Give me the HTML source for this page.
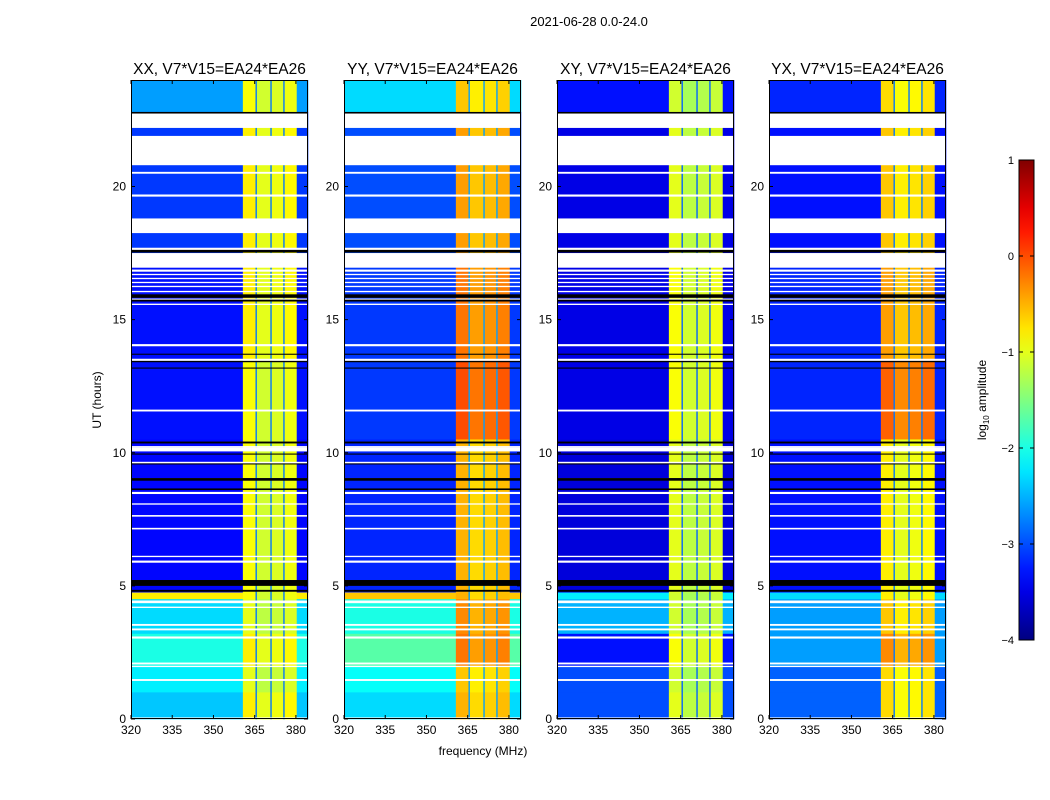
<!DOCTYPE html>
<html><head><meta charset="utf-8">
<style>
html,body{margin:0;padding:0;background:#fff;}
svg{display:block;font-family:"Liberation Sans","DejaVu Sans",sans-serif;}
</style></head>
<body>
<svg id="fig" width="1050" height="800" viewBox="0 0 1050 800" xmlns="http://www.w3.org/2000/svg">
<text x="589" y="26" font-size="13" text-anchor="middle">2021-06-28 0.0-24.0</text>
<text x="483" y="755" font-size="12" text-anchor="middle">frequency (MHz)</text>
<text x="101" y="400" font-size="12" text-anchor="middle" transform="rotate(-90 101 400)">UT (hours)</text>
<g id="panels"></g>
<defs><linearGradient id="jet" x1="0" y1="1" x2="0" y2="0"></linearGradient></defs>
<g id="cbar"></g>
<text x="986" y="400" font-size="12" text-anchor="middle" transform="rotate(-90 986 400)">log<tspan font-size="8" dy="3">10</tspan><tspan dy="-3"> amplitude</tspan></text>
</svg>
<script>
// ---- data ----
const panelTitles = ["XX, V7*V15=EA24*EA26","YY, V7*V15=EA24*EA26","XY, V7*V15=EA24*EA26","YX, V7*V15=EA24*EA26"];
const xTicks = [320,335,350,365,380];
const yTicks = [0,5,10,15,20];
const cbTicks = [1,0,-1,-2,-3,-4];
// frequency columns (MHz edges) and type: 0 background, 1 RFI, 2 gap within RFI
const freqEdges = [320,360.7,365.3,365.8,370.7,371.2,375.4,375.9,380.3,384.4];
const freqType  = [0,1,2,1,2,1,2,1,0];
const rfiColOffset = [0,0.1,0,-0.1,0,-0.05,0,0.05,0];
// time segments (hours)
const segStart = [22.8,17.5,13.5,10.5,4.75,4.5,3.2,2.0,1.0,0.0];
const segEnd   = [24.0,22.8,17.5,13.5,10.5,4.75,4.5,3.2,2.0,1.0];
const bgXX = [-2.6,-3.1,-3.3,-3.3,-3.35,-0.8,-2.3,-2.0,-2.2,-2.4];
const bgYY = [-2.3,-3.0,-3.1,-3.1,-3.2,-0.6,-2.0,-1.7,-2.1,-2.3];
const bgXY = [-3.3,-3.5,-3.5,-3.5,-3.55,-2.2,-2.5,-3.3,-3.0,-3.0];
const bgYX = [-3.2,-3.3,-3.2,-3.2,-3.3,-2.3,-2.6,-2.6,-2.9,-2.9];
const rfiXX = [-1.0,-0.9,-0.9,-1.0,-1.0,-1.0,-1.1,-0.9,-1.1,-0.9];
const rfiYY = [-0.7,-0.5,-0.3,-0.1,-0.6,-0.6,-0.4,-0.3,-0.7,-0.6];
const rfiXY = [-1.2,-1.1,-1.0,-1.0,-1.1,-1.2,-1.2,-1.0,-1.2,-1.1];
const rfiYX = [-0.8,-0.7,-0.5,-0.2,-0.9,-0.9,-0.7,-0.4,-0.8,-0.8];
const gapLevel = [-2.8,-2.6,-2.9,-2.8];
// flagged rows (hours): white = no data, black = zero lines
const whiteStart = [22.2,20.8,20.48,19.62,18.25,17.6,16.95,16.8,16.67,16.52,16.37,16.22,16.03,15.85,15.74,15.55,14.0,13.45,11.55,10.2,10.05,9.6,9.0,8.45,8.05,7.6,7.12,6.08,5.87,4.35,4.17,3.5,3.33,3.02,2.05,1.95,1.43,0.02];
const whiteEnd   = [22.75,21.9,20.55,19.7,18.8,17.7,17.5,16.88,16.72,16.57,16.42,16.27,16.08,15.9,15.79,15.6,14.08,13.53,11.62,10.25,10.2,9.66,9.05,8.53,8.1,7.66,7.18,6.13,5.95,4.45,4.22,3.57,3.4,3.1,2.12,2.0,1.5,0.06];
const blackStart = [22.74,17.52,15.82,15.68,13.68,13.4,13.16,10.35,9.93,9.56,8.95,8.6,5.0,4.78];
const blackEnd   = [22.8,17.62,15.95,15.75,13.72,13.45,13.2,10.42,9.97,9.6,9.05,8.66,5.22,4.85];

const bgSets = [bgXX,bgYY,bgXY,bgYX];
const rfiSets = [rfiXX,rfiYY,rfiXY,rfiYX];
const panelLeft = [131,344,557,769];
const PW = 177, PT = 80, PB = 719;
const NS = "http://www.w3.org/2000/svg";

function jet(v){
  let t = Math.max(0, Math.min(1, (v + 4) / 5));
  const f = (x) => Math.max(0, Math.min(1, 1.5 - Math.abs(4*t - x)));
  const r = f(3), g = f(2), b = f(1);
  return `rgb(${Math.round(r*255)},${Math.round(g*255)},${Math.round(b*255)})`;
}
function xScale(p, f){ return panelLeft[p] + (f - 320) / (384.4 - 320) * PW; }
function yScale(h){ return PB - h / 24 * (PB - PT); }
function mk(tag, attrs, parent){
  const el = document.createElementNS(NS, tag);
  for (const k in attrs) el.setAttribute(k, attrs[k]);
  parent.appendChild(el);
  return el;
}

const panels = document.getElementById('panels');
for (let p = 0; p < 4; p++){
  const g = mk('g', {}, panels);
  
  
  const hm = mk('g', {}, g);
  
  
  for (let s = 0; s < segStart.length; s++){
    for (let c = 0; c < freqType.length; c++){
      let v;
      if (freqType[c] === 0) v = bgSets[p][s];
      else if (freqType[c] === 1) v = rfiSets[p][s] + rfiColOffset[c];
      else v = gapLevel[p];
      const x0 = xScale(p, freqEdges[c]), x1 = xScale(p, freqEdges[c+1]);
      const y0 = yScale(segEnd[s]), y1 = yScale(segStart[s]);
      const r = mk('rect', {x:x0, y:y0, width:x1-x0+0.3, height:y1-y0+0.3, fill:jet(v)}, hm);
      
      
    }
  }
  for (let i = 0; i < whiteStart.length; i++){
    const r = mk('rect', {x:panelLeft[p], y:yScale(whiteEnd[i]), width:PW, height:Math.max(1, yScale(whiteStart[i]) - yScale(whiteEnd[i])), fill:'#fff'}, hm);
    
    
  }
  for (let i = 0; i < blackStart.length; i++){
    const r = mk('rect', {x:panelLeft[p], y:yScale(blackEnd[i]), width:PW, height:Math.max(1, yScale(blackStart[i]) - yScale(blackEnd[i])), fill:'#000'}, hm);
    
    
  }
  const fr = mk('rect', {x:panelLeft[p]+0.5, y:PT+0.5, width:PW-1, height:PB-PT-1, fill:'none', stroke:'#000', 'stroke-width':1}, g);
  
  
  const t = mk('text', {x:panelLeft[p]+PW/2, y:74, 'font-size':15.5, 'text-anchor':'middle'}, g);
  t.textContent = panelTitles[p];
  
  
  for (const f of xTicks){
    const x = xScale(p, f);
    const tk = mk('line', {x1:x, x2:x, y1:PB, y2:PB-4, stroke:'#000'}, g);
    
    
    mk('line', {x1:x, x2:x, y1:PT, y2:PT+4, stroke:'#000'}, g);
    const l = mk('text', {x:x, y:PB+15, 'font-size':12, 'text-anchor':'middle'}, g);
    l.textContent = f;
    
    
  }
  for (const h of yTicks){
    const y = yScale(h);
    const tk = mk('line', {x1:panelLeft[p], x2:panelLeft[p]+4, y1:y, y2:y, stroke:'#000'}, g);
    
    
    mk('line', {x1:panelLeft[p]+PW, x2:panelLeft[p]+PW-4, y1:y, y2:y, stroke:'#000'}, g);
    const l = mk('text', {x:panelLeft[p]-5, y:y+4, 'font-size':12, 'text-anchor':'end'}, g);
    l.textContent = h;
    
    
  }
}

// colorbar
const grad = document.getElementById('jet');
for (let i = 0; i <= 20; i++){
  const v = -4 + i * 5 / 20;
  mk('stop', {offset:(i/20), 'stop-color':jet(v)}, grad);
}
const cb = document.getElementById('cbar');
const CBT = 160, CBB = 640, CBL = 1019, CBW = 15;
function cbScale(v){ return CBB - (v + 4) / 5 * (CBB - CBT); }
const cr = mk('rect', {x:CBL, y:CBT, width:CBW, height:CBB-CBT, fill:'url(#jet)', stroke:'#000', 'stroke-width':1}, cb);


for (const v of cbTicks){
  const y = cbScale(v);
  mk('line', {x1:CBL, x2:CBL+4, y1:y, y2:y, stroke:'#000'}, cb);
  mk('line', {x1:CBL+CBW, x2:CBL+CBW-4, y1:y, y2:y, stroke:'#000'}, cb);
  const l = mk('text', {x:CBL-5, y:y+4, 'font-size':11, 'text-anchor':'end'}, cb);
  l.textContent = v < 0 ? '\u2212' + Math.abs(v) : String(v);
  
  
}
</script>
</body></html>
